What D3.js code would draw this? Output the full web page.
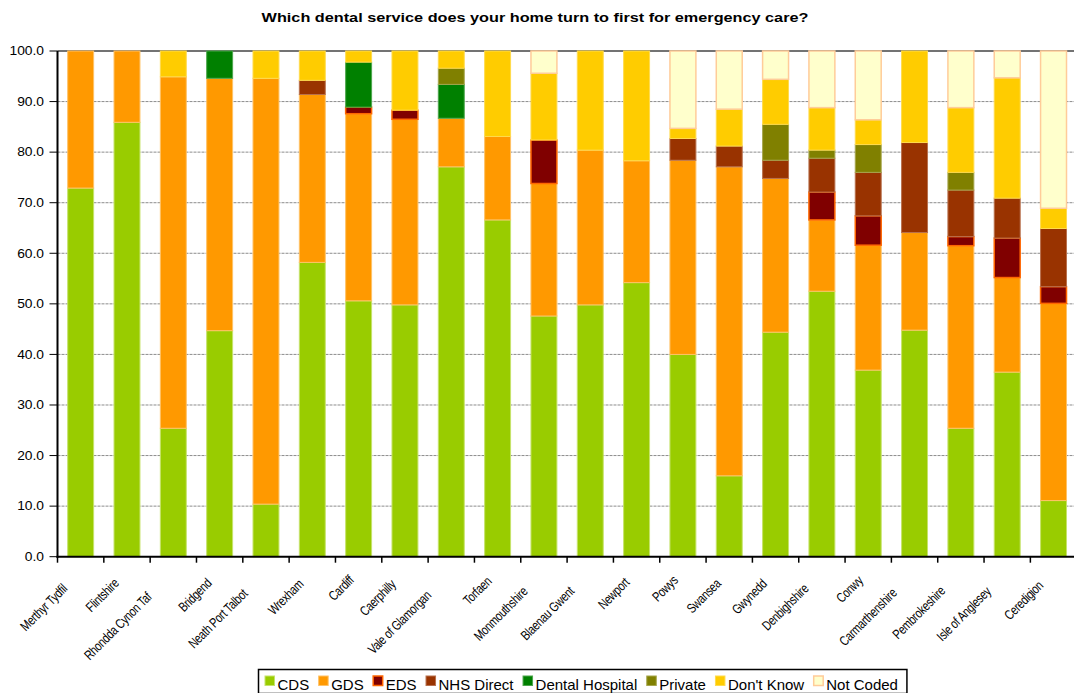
<!DOCTYPE html>
<html>
<head>
<meta charset="utf-8">
<script src="https://cdn.jsdelivr.net/npm/d3@7"></script>
<style>
  html, body { margin: 0; padding: 0; background: #fff; }
  svg { display: block; font-family: "Liberation Sans", Arial, sans-serif; }
</style>
</head>
<body>
<svg id="chart" width="1074" height="693"></svg>
<script>
const title = "Which dental service does your home turn to first for emergency care?";
const categories = ["Merthyr Tydfil","Flintshire","Rhondda Cynon Taf","Bridgend","Neath Port Talbot","Wrexham","Cardiff","Caerphilly","Vale of Glamorgan","Torfaen","Monmouthshire","Blaenau Gwent","Newport","Powys","Swansea","Gwynedd","Denbighshire","Conwy","Carmarthenshire","Pembrokeshire","Isle of Anglesey","Ceredigion"];
const seriesNames = ["CDS","GDS","EDS","NHS Direct","Dental Hospital","Private","Don't Know","Not Coded"];
const CDS            = [72.9,85.9,25.4,44.7,10.4,58.2,50.6,49.8,77.1,66.6,47.6,49.8,54.2,40.0,16.0,44.4,52.5,36.9,44.8,25.4,36.5,11.1];
const GDS            = [27.1,14.1,69.5,49.9,84.2,33.2,37.0,36.7, 9.6,16.5,26.2,30.6,24.1,38.4,61.1,30.4,14.1,24.7,19.3,36.1,18.7,39.0];
const EDS            = [0,0,0,0,0,0,1.3,1.8,0,0,8.6,0,0,0,0,0,5.5,5.8,0,1.8,7.8,3.3];
const NHSDirect      = [0,0,0,0,0,2.8,0,0,0,0,0,0,0,4.3,4.1,3.6,6.7,8.6,17.8,9.2,7.9,11.5];
const DentalHospital = [0,0,0,5.4,0,0,8.9,0,6.7,0,0,0,0,0,0,0,0,0,0,0,0,0];
const Private        = [0,0,0,0,0,0,0,0,3.2,0,0,0,0,0,0,7.1,1.6,5.5,0,3.5,0,0];
const DontKnow       = [0,0,5.1,0,5.4,5.8,2.2,11.7,3.4,16.9,13.2,19.6,21.7,2.0,7.3,8.9,8.4,4.9,18.1,12.8,23.8,4.0];
const NotCoded       = [0,0,0,0,0,0,0,0,0,0,4.4,0,0,15.3,11.5,5.6,11.2,13.6,0,11.2,5.3,31.1];
const yTicks = [0,10,20,30,40,50,60,70,80,90,100];

const seriesValues = [CDS, GDS, EDS, NHSDirect, DentalHospital, Private, DontKnow, NotCoded];
const fills   = ["#99CC00","#FF9900","#800000","#993300","#008000","#808000","#FFCC00","#FFFFCC"];
const strokes = ["#C6E36B","#FFC266","#FF6600","#B8704D","#4DA64D","#A6A64D","#FFDB4D","#FFCC99"];
const strokeW = [1,1,1.5,1,1,1,1,1.5];

const svg = d3.select("#chart");
const pLeft = 57.5, pRight = 1076.7, pTop = 51, pBottom = 556.7;

const x = d3.scaleBand().domain(categories).range([pLeft, pRight]).paddingInner(0.44).paddingOuter(0.22);
const y = d3.scaleLinear().domain([0, 100]).range([pBottom, pTop]);

const table = categories.map((c, i) => {
  const row = { cat: c };
  seriesNames.forEach((s, j) => row[s] = seriesValues[j][i]);
  return row;
});
const stack = d3.stack().keys(seriesNames)(table);

// title
svg.append("text")
  .attr("transform", "translate(535,21.7) scale(1.25,1)")
  .attr("text-anchor", "middle")
  .attr("font-weight", "bold")
  .attr("font-size", 13)
  .attr("fill", "#000")
  .text(title);

// gridlines
svg.append("g").selectAll("line").data(yTicks.filter(d => d > 0)).join("line")
  .attr("x1", pLeft).attr("x2", 1074)
  .attr("y1", d => y(d)).attr("y2", d => y(d))
  .attr("stroke", d => d === 100 ? "#444" : "#8c8c8c")
  .attr("stroke-width", d => d === 100 ? 1.5 : 1)
  .attr("stroke-dasharray", d => d === 100 ? null : "3,1");

// bars
const layers = svg.append("g").selectAll("g").data(stack).join("g")
  .attr("fill", (d, i) => fills[i])
  .attr("stroke", (d, i) => strokes[i])
  .attr("stroke-width", (d, i) => strokeW[i]);
layers.selectAll("rect").data(d => d.filter(p => p[1] - p[0] > 0)).join("rect")
  .attr("x", d => x(d.data.cat))
  .attr("width", x.bandwidth())
  .attr("y", d => y(d[1]))
  .attr("height", d => y(d[0]) - y(d[1]));

// y axis
const yAxisG = svg.append("g");
yAxisG.append("line").attr("x1", pLeft).attr("x2", pLeft).attr("y1", pTop).attr("y2", pBottom + 1)
  .attr("stroke", "#000").attr("stroke-width", 2);
yAxisG.selectAll("line.tick").data(yTicks).join("line").attr("class", "tick")
  .attr("x1", pLeft - 8).attr("x2", pLeft).attr("y1", d => y(d)).attr("y2", d => y(d))
  .attr("stroke", "#000").attr("stroke-width", 1);
yAxisG.selectAll("text").data(yTicks).join("text")
  .attr("transform", d => `translate(44,${y(d) + 4.3}) scale(1.15,1)`)
  .attr("text-anchor", "end")
  .attr("font-size", 12)
  .attr("fill", "#000")
  .text(d => d3.format(".1f")(d));

// x axis
const xAxisG = svg.append("g");
xAxisG.append("line").attr("x1", pLeft - 1).attr("x2", 1074).attr("y1", pBottom).attr("y2", pBottom)
  .attr("stroke", "#000").attr("stroke-width", 2);
const step = x.step();
const bounds = d3.range(categories.length + 1).map(i => pLeft + i * step);
xAxisG.selectAll("line.tick").data(bounds).join("line").attr("class", "tick")
  .attr("x1", d => d).attr("x2", d => d).attr("y1", pBottom).attr("y2", pBottom + 6)
  .attr("stroke", "#000").attr("stroke-width", 1.5);

// x labels (condensed)
const sx = 0.78;
categories.forEach(c => {
  const g = svg.append("g")
    .attr("transform", `translate(${x(c) + x.bandwidth() / 2},560) rotate(-45) scale(${sx},1)`);
  const t = g.append("text")
    .attr("text-anchor", "end")
    .attr("font-size", 13.5)
    .attr("letter-spacing", -0.3)
    .attr("y", 12)
    .attr("fill", "#000")
    .text(c);
  const L = t.node().getComputedTextLength() * sx;
  t.attr("x", (-6 - 0.4 * L) / sx);
});

// legend
const legend = svg.append("g");
let lx = 264.5;
seriesNames.forEach((s, i) => {
  legend.append("rect")
    .attr("x", lx + 0.5).attr("y", 676).attr("width", 9.5).attr("height", 9.5)
    .attr("fill", fills[i]).attr("stroke", strokes[i]).attr("stroke-width", i === 2 || i === 7 ? 1.5 : 1);
  const t = legend.append("text")
    .attr("x", lx + 13).attr("y", 690.3)
    .attr("font-size", 15).attr("fill", "#000")
    .text(s);
  lx = lx + 13 + t.node().getComputedTextLength() + 9;
});
legend.insert("rect", ":first-child")
  .attr("x", 258.5).attr("y", 669.5).attr("width", lx - 258.5).attr("height", 24)
  .attr("fill", "#fff").attr("stroke", "#000").attr("stroke-width", 1.5);
</script>
</body>
</html>
